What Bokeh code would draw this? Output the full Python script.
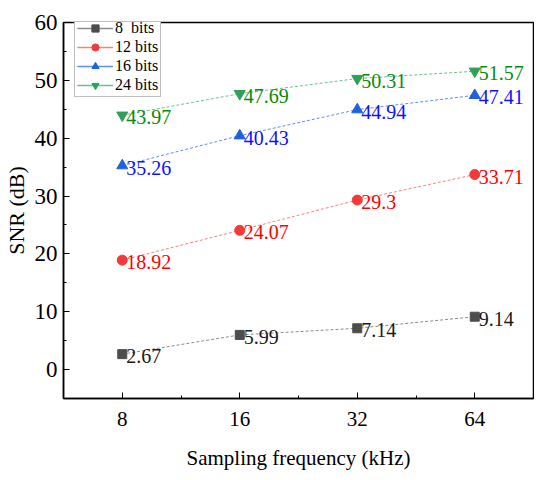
from bokeh.plotting import figure
from bokeh.models import FixedTicker, Range1d, ColumnDataSource, Legend, LegendItem
from bokeh.embed import file_html
from bokeh.resources import INLINE

freq_labels = ["8", "16", "32", "64"]
series_names = ["8  bits", "12 bits", "16 bits", "24 bits"]
snr_8 = [2.67, 5.99, 7.14, 9.14]
snr_12 = [18.92, 24.07, 29.3, 33.71]
snr_16 = [35.26, 40.43, 44.94, 47.41]
snr_24 = [43.97, 47.69, 50.31, 51.57]
label_8 = ["2.67", "5.99", "7.14", "9.14"]
label_12 = ["18.92", "24.07", "29.3", "33.71"]
label_16 = ["35.26", "40.43", "44.94", "47.41"]
label_24 = ["43.97", "47.69", "50.31", "51.57"]

FONT = "Liberation Serif"
xs = list(range(1, len(freq_labels) + 1))

p = figure(width=534, height=472, output_backend="svg", toolbar_location=None,
           x_range=Range1d(0.5, 4.5), y_range=Range1d(-5, 60),
           min_border_left=59, min_border_right=1, min_border_top=22, min_border_bottom=70)
p.xgrid.visible = False
p.ygrid.visible = False
p.outline_line_color = "black"
p.outline_line_width = 1.5

p.xaxis.ticker = FixedTicker(ticks=xs, minor_ticks=[1.5, 2.5, 3.5])
p.xaxis.major_label_overrides = {x: l for x, l in zip(xs, freq_labels)}
p.yaxis.ticker = FixedTicker(ticks=[0, 10, 20, 30, 40, 50, 60], minor_ticks=[-5, 5, 15, 25, 35, 45, 55])
p.axis.axis_line_width = 1.5
p.axis.axis_line_color = "black"
p.axis.major_tick_in = 6
p.axis.major_tick_out = 0
p.axis.minor_tick_in = 3
p.axis.minor_tick_out = 0
p.axis.major_tick_line_color = "black"
p.axis.minor_tick_line_color = "black"
p.axis.major_label_text_font = FONT
p.axis.major_label_text_color = "black"
p.xaxis.major_label_text_font_size = "21px"
p.yaxis.major_label_text_font_size = "23px"
p.axis.axis_label_text_font = FONT
p.axis.axis_label_text_font_style = "normal"
p.axis.axis_label_text_color = "black"
p.xaxis.axis_label_text_font_size = "21px"
p.yaxis.axis_label_text_font_size = "22px"
p.xaxis.axis_label = "Sampling frequency (kHz)"
p.yaxis.axis_label = "SNR (dB)"
p.xaxis.major_label_standoff = 13
p.xaxis.axis_label_standoff = 17
p.yaxis.major_label_standoff = 6
p.yaxis.axis_label_standoff = 3

specs = [
    (snr_8, label_8, "square", "#4d4d4d", "#8c8c8c", "#1a1a1a", 9),
    (snr_12, label_12, "circle", "#f23a3a", "#ff7f7f", "#ff0000", 10),
    (snr_16, label_16, "triangle", "#1f62e0", "#5f8ff0", "#1010ff", 11),
    (snr_24, label_24, "inverted_triangle", "#2ea05a", "#6cc08e", "#0a8a0a", 11),
]

items = []
for (vals, labs, marker, mcol, lcol, tcol, size), name in zip(specs, series_names):
    src = ColumnDataSource(dict(x=xs, y=vals, t=labs))
    data_line = p.line("x", "y", source=src, line_color=lcol, line_width=1, line_dash="3 2")
    # legend-only solid line, kept outside the visible range
    leg_line = p.line(x=[-10, -9], y=[-100, -100], line_color=lcol, line_width=1.5)
    sc = p.scatter("x", "y", source=src, marker=marker, size=size,
                   fill_color=mcol, line_color=mcol)
    p.text("x", "y", text="t", source=src, text_color=tcol, text_font={"value": FONT},
           text_font_size="20px", text_align="left", text_baseline="middle",
           x_offset=4, y_offset=2)
    items.append(LegendItem(label=name, renderers=[data_line, leg_line, sc]))

legend = Legend(items=items, location=(11, 301), orientation="vertical",
                label_text_font=FONT, label_text_font_size="16px", label_text_color="black",
                glyph_width=36, glyph_height=18, label_height=18, spacing=1,
                padding=2, margin=0, label_standoff=2,
                border_line_color="#808080", border_line_width=1,
                background_fill_color="white", background_fill_alpha=1)
p.add_layout(legend, "center")

open("out.html", "w").write(file_html(p, INLINE))
